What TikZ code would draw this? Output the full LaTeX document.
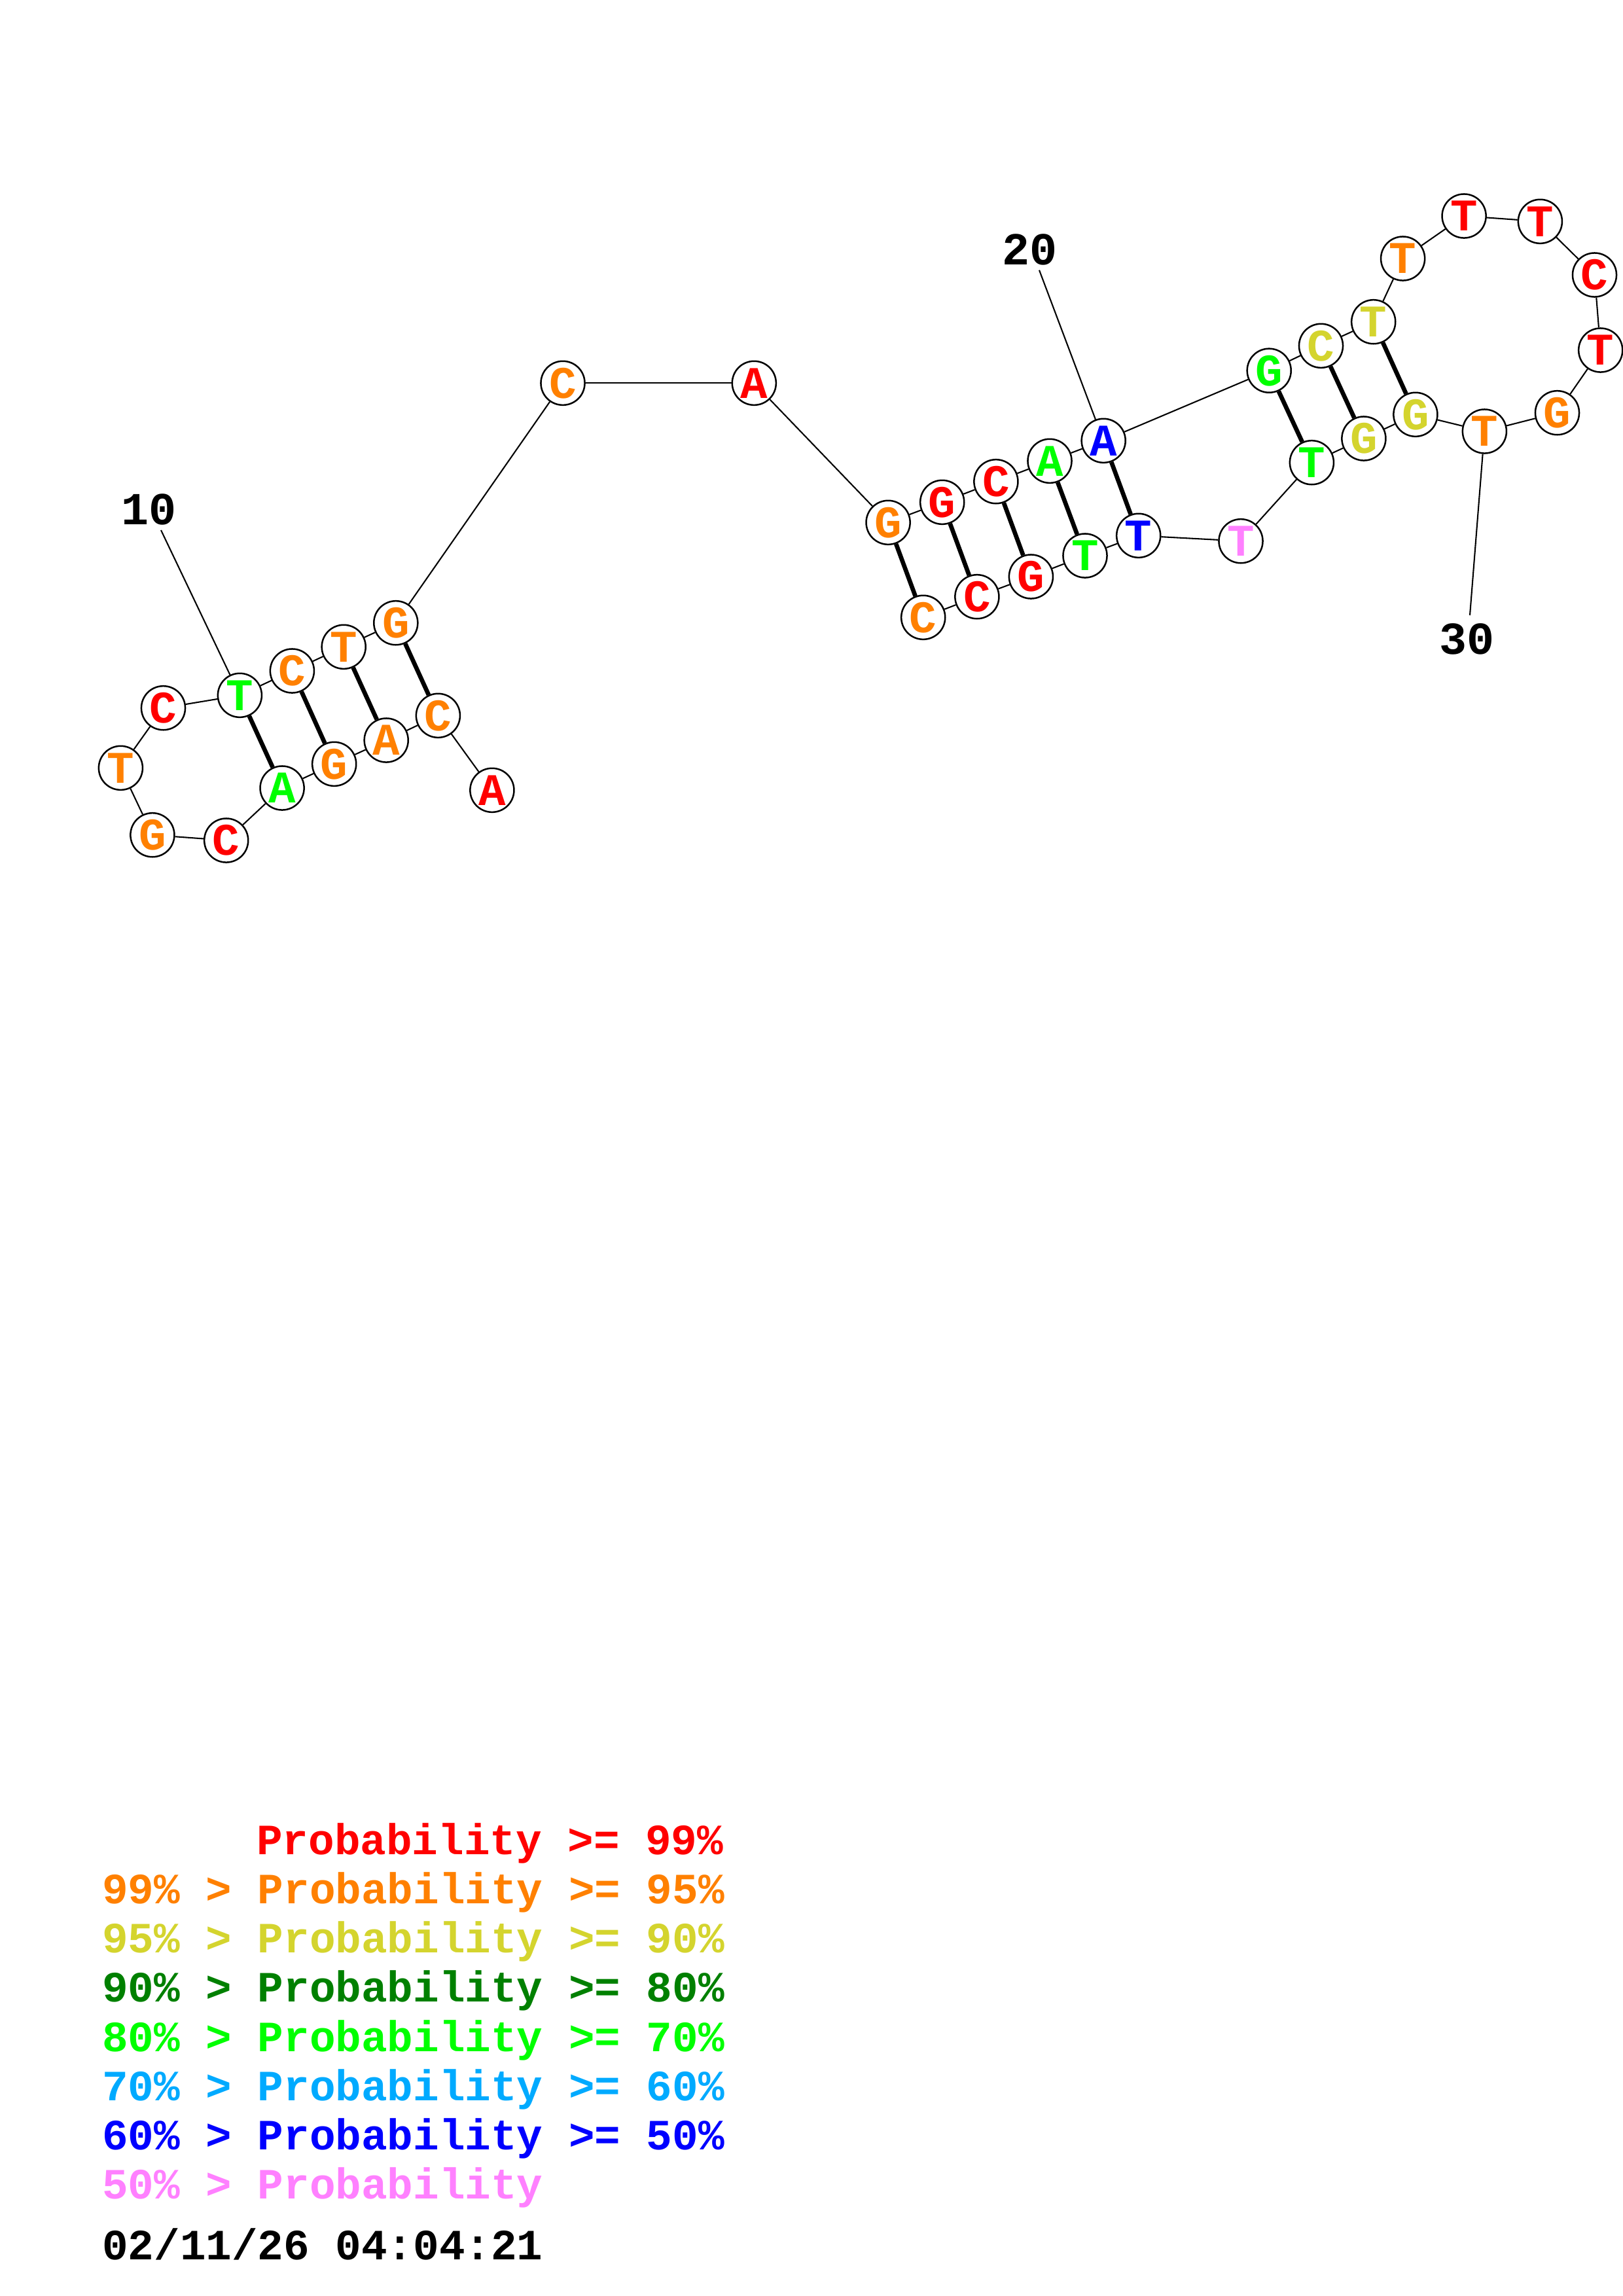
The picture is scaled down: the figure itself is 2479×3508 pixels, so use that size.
\documentclass[tikz,border=0pt]{standalone}
\usepackage{fontspec}
\setmonofont{Liberation Mono}
\definecolor{pr}{RGB}{255,0,0}
\definecolor{po}{RGB}{255,128,0}
\definecolor{py}{RGB}{212,212,46}
\definecolor{pdg}{RGB}{0,128,0}
\definecolor{pg}{RGB}{0,255,0}
\definecolor{pc}{RGB}{0,170,255}
\definecolor{pb}{RGB}{0,0,255}
\definecolor{pp}{RGB}{255,128,255}
\begin{document}
\begin{tikzpicture}[x=0.24bp,y=-0.24bp,
  nt/.style={circle,draw=black,line width=0.6bp,fill=white,minimum size=16.1bp,inner sep=0pt,
    font=\ttfamily\bfseries\fontsize{16.6bp}{18bp}\selectfont},
  bb/.style={line width=0.5bp},
  pairline/.style={line width=1.6bp},
  numlab/.style={inner sep=0pt,font=\ttfamily\bfseries\fontsize{16.8bp}{18bp}\selectfont},
  leg/.style={anchor=base west,inner sep=0pt,font=\ttfamily\bfseries\fontsize{15.84bp}{18bp}\selectfont}]
\useasboundingbox (0,0) rectangle (2479,3508);
% nucleotides
\node[nt,text=pr]  (n1)  at (751.9,1207.3) {A};
\node[nt,text=po]  (n2)  at (669.4,1093.3) {C};
\node[nt,text=po]  (n3)  at (590.2,1131.0) {A};
\node[nt,text=po]  (n4)  at (510.7,1167.3) {G};
\node[nt,text=pg]  (n5)  at (431.1,1204.0) {A};
\node[nt,text=pr]  (n6)  at (345.7,1284.0) {C};
\node[nt,text=po]  (n7)  at (232.9,1275.7) {G};
\node[nt,text=po]  (n8)  at (184.4,1173.3) {T};
\node[nt,text=pr]  (n9)  at (249.5,1081.7) {C};
\node[nt,text=pg]  (n10) at (366.4,1062.3) {T};
\node[nt,text=po]  (n11) at (446.4,1025.0) {C};
\node[nt,text=po]  (n12) at (525.2,988.3) {T};
\node[nt,text=po]  (n13) at (604.8,951.7) {G};
\node[nt,text=po]  (n14) at (860.0,585.3) {C};
\node[nt,text=pr]  (n15) at (1152.3,585.3) {A};
\node[nt,text=po]  (n16) at (1357.1,798.3) {G};
\node[nt,text=pr]  (n17) at (1439.7,767.3) {G};
\node[nt,text=pr]  (n18) at (1521.9,735.7) {C};
\node[nt,text=pg]  (n19) at (1604.0,704.3) {A};
\node[nt,text=pb]  (n20) at (1686.2,673.3) {A};
\node[nt,text=pg]  (n21) at (1939.2,566.2) {G};
\node[nt,text=py]  (n22) at (2018.5,528.3) {C};
\node[nt,text=py]  (n23) at (2098.7,491.7) {T};
\node[nt,text=po]  (n24) at (2143.6,395.0) {T};
\node[nt,text=pr]  (n25) at (2237.1,330.0) {T};
\node[nt,text=pr]  (n26) at (2353.4,338.3) {T};
\node[nt,text=pr]  (n27) at (2436.5,420.0) {C};
\node[nt,text=pr]  (n28) at (2445.7,535.0) {T};
\node[nt,text=po]  (n29) at (2379.5,630.7) {G};
\node[nt,text=po]  (n30) at (2268.4,659.0) {T};
\node[nt,text=py]  (n31) at (2162.9,633.3) {G};
\node[nt,text=py]  (n32) at (2083.9,670.0) {G};
\node[nt,text=pg]  (n33) at (2004.4,706.7) {T};
\node[nt,text=pp]  (n34) at (1896.0,826.7) {T};
\node[nt,text=pb]  (n35) at (1739.7,818.3) {T};
\node[nt,text=pg]  (n36) at (1658.0,849.0) {T};
\node[nt,text=pr]  (n37) at (1575.4,881.0) {G};
\node[nt,text=pr]  (n38) at (1492.9,911.7) {C};
\node[nt,text=po]  (n39) at (1410.7,943.3) {C};
% backbone
\foreach \a/\b in {1/2,2/3,3/4,4/5,5/6,6/7,7/8,8/9,9/10,10/11,11/12,12/13,13/14,14/15,15/16,16/17,17/18,18/19,19/20,
  20/21,21/22,22/23,23/24,24/25,25/26,26/27,27/28,28/29,29/30,30/31,31/32,32/33,33/34,34/35,35/36,36/37,37/38,38/39}
  \draw[bb] (n\a) -- (n\b);
% base pairs
\foreach \a/\b in {10/5,11/4,12/3,13/2,16/39,17/38,18/37,19/36,20/35,21/33,22/32,23/31}
  \draw[pairline] (n\a) -- (n\b);
% position labels
\node[numlab] (l10) at (228,778.6) {10};
\node[numlab] (l20) at (1573,381) {20};
\node[numlab] (l30) at (2241.7,976.7) {30};
\coordinate (c10) at (246,810);
\coordinate (c20) at (1588,412.7);
\coordinate (c30) at (2246,940);
\draw[bb] (c10) -- (n10);
\draw[bb] (c20) -- (n20);
\draw[bb] (c30) -- (n30);
% legend
\node[leg,text=pr]  (g1) at (391.5,2833.6) {Probability >= 99\%};
\node[leg,text=po]  (g2) at (155.5,2908.7) {99\% > Probability >= 95\%};
\node[leg,text=py]  (g3) at (155.5,2983.8) {95\% > Probability >= 90\%};
\node[leg,text=pdg] (g4) at (155.5,3058.9) {90\% > Probability >= 80\%};
\node[leg,text=pg]  (g5) at (155.5,3134.0) {80\% > Probability >= 70\%};
\node[leg,text=pc]  (g6) at (155.5,3209.1) {70\% > Probability >= 60\%};
\node[leg,text=pb]  (g7) at (155.5,3284.2) {60\% > Probability >= 50\%};
\node[leg,text=pp]  (g8) at (155.5,3359.3) {50\% > Probability};
\node[leg,text=black] (gd) at (155.5,3452.5) {02/11/26 04:04:21};
\end{tikzpicture}
\end{document}
